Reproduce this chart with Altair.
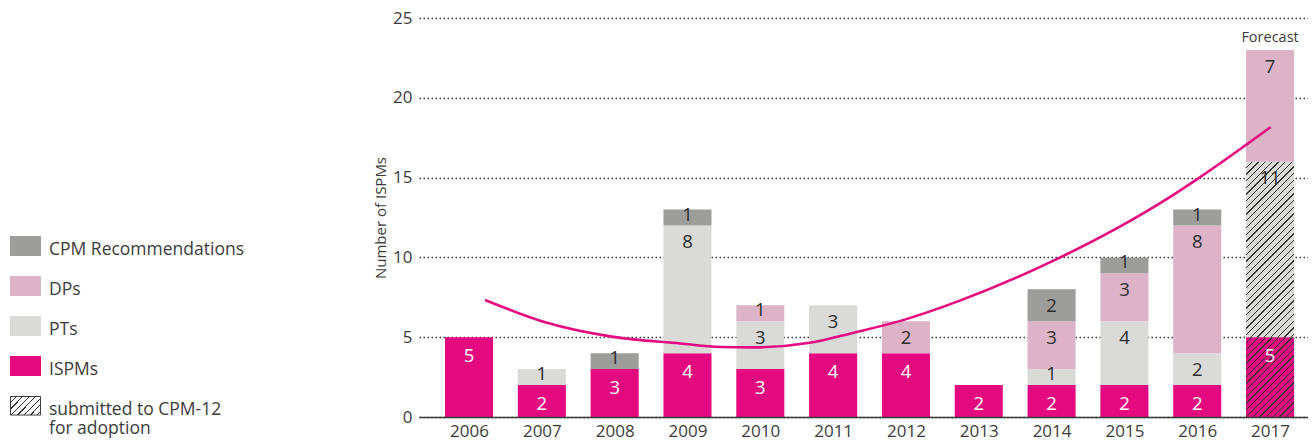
import altair as alt
import pandas as pd

# ---------------- data ----------------
years = [2006, 2007, 2008, 2009, 2010, 2011, 2012, 2013, 2014, 2015, 2016, 2017]
ispms = [5, 2, 3, 4, 3, 4, 4, 2, 2, 2, 2, 5]
pts = [0, 1, 0, 8, 3, 3, 0, 0, 1, 4, 2, 11]
dps = [0, 0, 0, 0, 1, 0, 2, 0, 3, 3, 8, 7]
cpm_recs = [0, 0, 1, 1, 0, 0, 0, 0, 2, 1, 1, 0]
categories = ["ISPMs", "PTs", "DPs", "CPM Recommendations"]
forecast_year = 2017
forecast_label = "Forecast"
hatched_categories = ["ISPMs", "PTs"]  # 2017 segments submitted to CPM-12

# trend curve
trend_years = [2006.22, 2007.07, 2007.98, 2008.90, 2009.45, 2009.90, 2010.68,
               2011.27, 2011.96, 2012.74, 2014.12, 2014.90, 2015.58, 2016.04, 2017.01]
trend_values = [7.33, 5.90, 5.02, 4.61, 4.39, 4.36, 4.65,
                5.27, 6.07, 7.29, 10.0, 11.83, 13.65, 15.03, 18.17]

legend_labels = ["CPM Recommendations", "DPs", "PTs", "ISPMs",
                 ["submitted to CPM-12", "for adoption"]]

# ---------------- styles ----------------
FONT = "Open Sans"
MAGENTA = "#e5097f"
PINK = "#ddb3c8"
LIGHT = "#dadad9"
GREY = "#9d9d9c"
TEXT = "#3c3c3b"
LABEL = "#2e2e2e"
HATCH = "#333333"
colors = [MAGENTA, LIGHT, PINK, GREY]

PLOT_W, PLOT_H = 889, 399
PX_PER_YEAR = 72.82
X0 = 2005.313
X_DOMAIN = [X0, X0 + PLOT_W / PX_PER_YEAR]
Y_DOMAIN = [0, 25]
PX_PER_UNIT = PLOT_H / Y_DOMAIN[1]
HALF = 0.33

rows = []
series = {"ISPMs": ispms, "PTs": pts, "DPs": dps, "CPM Recommendations": cpm_recs}
for i, y in enumerate(years):
    for order, c in enumerate(categories):
        v = series[c][i]
        if v > 0:
            rows.append({"year": y, "category": c, "value": v, "order": order})
df = pd.DataFrame(rows)
trend_df = pd.DataFrame({"year": trend_years, "value": trend_values})


def hatch(base, line, w, h, step=6.7, lw=1.3):
    total = w + h
    k = (w + h) / (w * w + h * h)
    p = step / total
    l = lw / total
    stops = []
    t = 0.0
    while t < 1:
        a = round(min(t + p - l, 1), 5)
        b = round(min(t + p, 1), 5)
        stops += [{"offset": round(t, 5), "color": base}, {"offset": a, "color": base},
                  {"offset": a, "color": line}, {"offset": b, "color": line}]
        t += p
    return {"gradient": "linear", "x1": 0, "y1": 0, "x2": k * w, "y2": k * h, "stops": stops}


x_axis = alt.Axis(values=years, format="d", title=None, grid=False, ticks=False,
                  domain=True, domainColor=TEXT, domainWidth=1.5, labelPadding=6,
                  labelFontSize=17, labelColor=TEXT, labelFont=FONT, labelOverlap=False,
                  labelFlush=False, zindex=1)
y_axis = alt.Axis(values=[0, 5, 10, 15, 20, 25], title="Number of ISPMs", grid=True,
                  gridDash=[1.5, 2.5], gridColor="#333333", gridWidth=1.5, domain=False,
                  ticks=False, labelPadding=7, labelFontSize=17, labelColor=TEXT,
                  labelFont=FONT, titleFont=FONT, titleFontSize=15, titleColor=TEXT,
                  titleFontWeight="normal", titleX=-39, titleY=PLOT_H / 2, titleAngle=270,
                  titleAlign="center", titleBaseline="middle")
x_scale = alt.Scale(domain=X_DOMAIN, nice=False, zero=False)
y_scale = alt.Scale(domain=Y_DOMAIN, nice=False)


def X(f):
    return alt.X(f, type="quantitative", scale=x_scale, axis=x_axis)


def Y(f):
    return alt.Y(f, type="quantitative", scale=y_scale, axis=y_axis)


base = (alt.Chart(df)
        .transform_stack(stack="value", groupby=["year"], as_=["lo", "hi"],
                         sort=[alt.SortField("order", order="ascending")])
        .transform_calculate(x0=f"datum.year - {HALF}", x1=f"datum.year + {HALF}"))

bars = base.mark_rect().encode(
    x=X("x0"), x2="x1:Q", y=Y("lo"), y2="hi:Q",
    color=alt.Color("category:N", scale=alt.Scale(domain=categories, range=colors), legend=None),
)

layers = [bars]
bar_w = 2 * HALF * PX_PER_YEAR
hatch_base = {"ISPMs": MAGENTA, "PTs": LIGHT}
for c in hatched_categories:
    v = series[c][years.index(forecast_year)]
    grad = hatch(hatch_base[c], HATCH, bar_w, v * PX_PER_UNIT)
    layers.append(
        base.transform_filter((alt.datum.year == forecast_year) & (alt.datum.category == c))
        .mark_rect(fill=grad)
        .encode(x=X("x0"), x2="x1:Q", y=Y("lo"), y2="hi:Q")
    )

trend = alt.Chart(trend_df).mark_line(color=MAGENTA, strokeWidth=2.6, interpolate="monotone").encode(
    x=X("year"), y=Y("value"))
layers.append(trend)

labels = (base.transform_calculate(
    label_y="datum.hi - (datum.value == 1 ? 0.69 : (datum.category == 'ISPMs' ? 1.55 : 1.43))")
    .mark_text(font=FONT, fontSize=18.5, baseline="alphabetic", align="center")
    .encode(x=X("year"), y=Y("label_y"), text="value:Q",
            color=alt.when(alt.datum.category == "ISPMs").then(alt.value("white")).otherwise(alt.value(LABEL))))
layers.append(labels)

forecast = (base.transform_filter(alt.datum.year == forecast_year)
            .transform_aggregate(total="sum(value)", groupby=["year"])
            .mark_text(font=FONT, fontSize=14.5, baseline="alphabetic", align="center", dy=-8, color=TEXT)
            .encode(x=X("year"), y=Y("total"), text=alt.value(forecast_label)))
layers.append(forecast)

# ---------------- manual legend ----------------
legend_fills = [GREY, PINK, LIGHT, MAGENTA, hatch("white", HATCH, 31, 19)]
for i, (lab, fill) in enumerate(zip(legend_labels, legend_fills)):
    top = 218 + 40 * i
    ldf = pd.DataFrame({"k": [i]})
    if i < 4:
        sw = alt.Chart(ldf).mark_rect(fill=fill).encode(
            x=alt.value(-409), x2=alt.value(-378), y=alt.value(top), y2=alt.value(top + 20))
    else:
        sw = alt.Chart(ldf).mark_rect(fill=fill, stroke=TEXT, strokeWidth=1).encode(
            x=alt.value(-408.5), x2=alt.value(-378.5), y=alt.value(top + 0.5), y2=alt.value(top + 19))
    tx = alt.Chart(ldf).mark_text(font=FONT, fontSize=17.5, align="left", baseline="alphabetic",
                                  color=TEXT, lineHeight=19).encode(
        x=alt.value(-370), y=alt.value(top + 18.5), text=alt.value(lab))
    layers += [sw, tx]

chart = (alt.layer(*layers)
         .properties(width=PLOT_W, height=PLOT_H,
                     autosize=alt.AutoSizeParams(type="none"),
                     padding={"left": 411, "top": 10, "right": 0, "bottom": 28},
                     background="white")
         .configure_view(strokeWidth=0))

chart.save("out.html", embed_options={"renderer": "svg", "actions": False})
